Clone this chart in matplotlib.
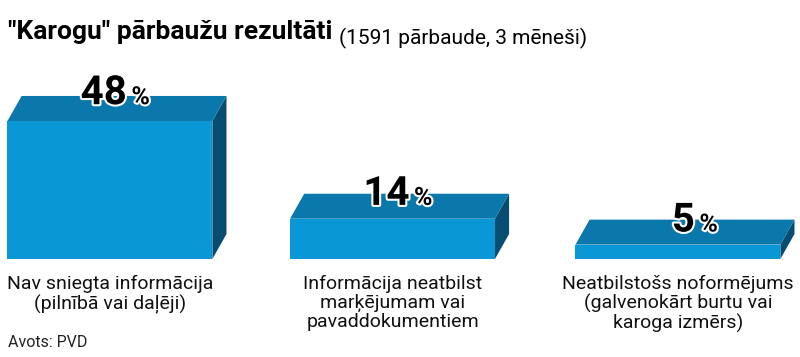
import numpy as np
from matplotlib import pyplot as plt
from matplotlib.patches import Polygon
from matplotlib import patheffects

categories = ["Nav sniegta informācija\n(pilnībā vai daļēji)",
              "Informācija neatbilst\nmarķējumam vai\npavaddokumentiem",
              "Neatbilstošs noformējums\n(galvenokārt burtu vai\nkaroga izmērs)"]
values = [48, 14, 5]

plt.rcParams['font.family'] = ['Roboto', 'DejaVu Sans']

front = '#0a97d6'
top = '#0b78ab'
side = '#064d71'

fig = plt.figure(figsize=(8, 3.57), dpi=100)
ax = fig.add_axes([0, 0.2745, 1, 0.5574])
ax.set_xlim(-0.389, 2.442)
ax.set_ylim(0, 69.2)
ax.axis('off')

x = np.array([0, 1.0, 2.01])
width = 0.725
dx = 0.05   # depth offset in x units
dy = 8.7    # depth offset in percent units

for xi, v in zip(x, values):
    x0 = xi - width / 2
    x1 = xi + width / 2
    ax.add_patch(Polygon([(x1, 0), (x1, v), (x1 + dx, v + dy), (x1 + dx, dy)],
                         closed=True, facecolor=side, edgecolor='none'))
    ax.add_patch(Polygon([(x0, v), (x0 + dx, v + dy), (x1 + dx, v + dy), (x1, v)],
                         closed=True, facecolor=top, edgecolor='none'))

ax.bar(x, values, width=width, color=front, edgecolor='none')

stroke = [patheffects.withStroke(linewidth=3, foreground='white')]
for xi, v, lab in zip(x, values, categories):
    ypos = v + 4.4 + v * 0.03
    ax.text(xi + 0.06, ypos, str(v), ha='right', va='baseline', fontsize=29,
            fontweight='bold', color='black', path_effects=stroke, zorder=5)
    ax.text(xi + 0.076, ypos, '%', ha='left', va='baseline', fontsize=18,
            fontweight='bold', color='black', path_effects=stroke, zorder=5)
    ax.text(xi, -5.6, lab, ha='center', va='top', fontsize=14, linespacing=1.05,
            color='#111111', clip_on=False)

title = fig.text(8 / 800, 1 - 39 / 357, '"Karogu" pārbaužu rezultāti', ha='left',
                 va='baseline', fontsize=19, fontweight='bold', color='black')
fig.canvas.draw()
ax.annotate('(1591 pārbaude, 3 mēneši)', xy=(1, 0), xycoords=title,
            xytext=(5, 0), textcoords='offset points', ha='left', va='baseline',
            fontsize=15, color='black')
fig.text(8 / 800, 1 - 347 / 357, 'Avots: PVD', ha='left', va='baseline',
         fontsize=11.5, color='#222222')

fig.savefig('out.png', dpi=100, facecolor='white')
